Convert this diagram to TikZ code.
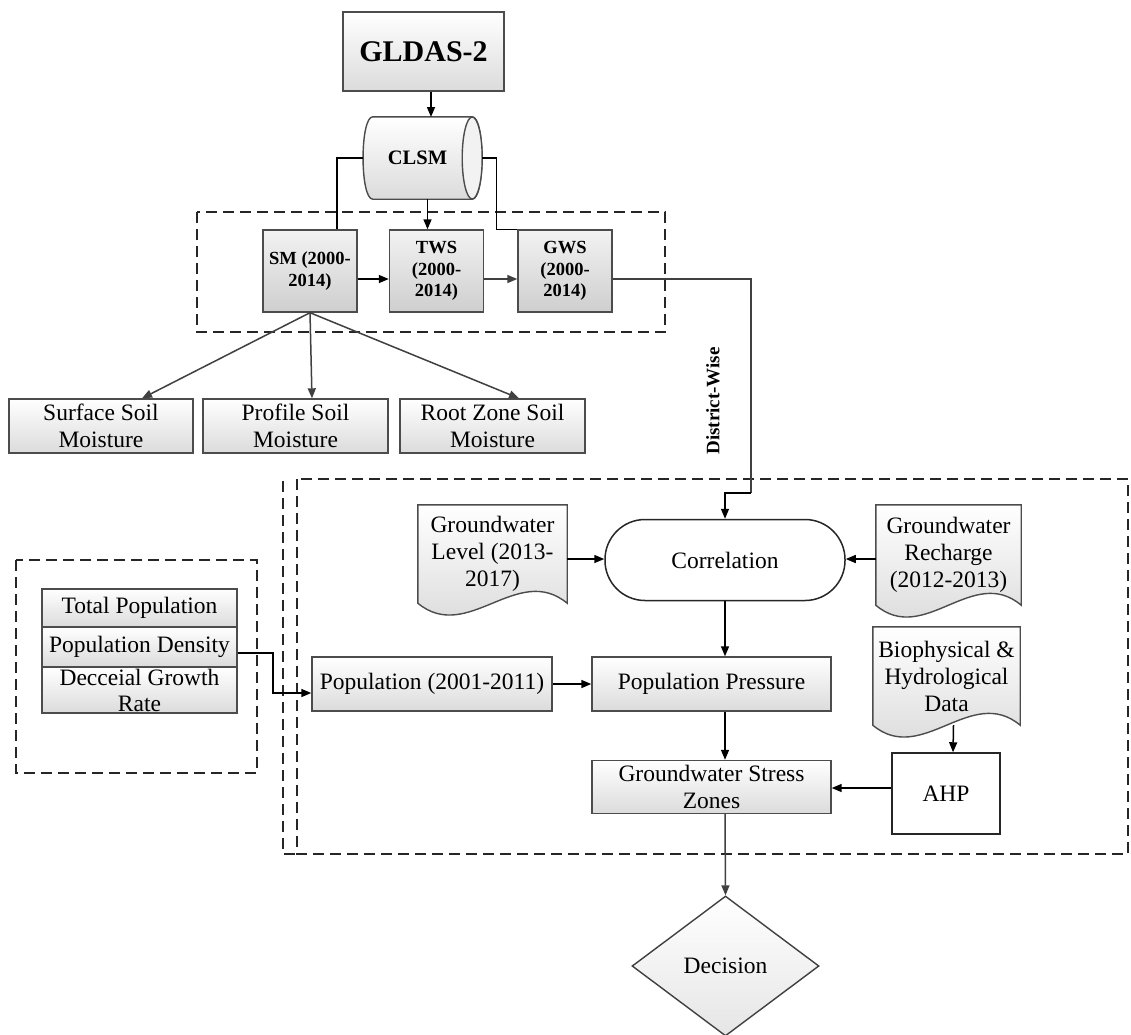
\documentclass[tikz,border=0pt]{standalone}
\usepackage{fontspec}
\setmainfont{Liberation Serif}
\usetikzlibrary{shapes.geometric,arrows.meta,calc}
\pgfdeclarelayer{background}
\pgfsetlayers{background,main}
\newcommand{\mydocshape}[1]{%
  \path[docline] (#1.north west) -- (#1.north east) -- (#1.south east)
    .. controls ($(#1.south east)!0.333!(#1.south west)+(0,-41)$) and ($(#1.south east)!0.667!(#1.south west)+(0,41)$) .. (#1.south west) -- cycle;}
\begin{document}
\begin{tikzpicture}[x=1pt,y=-1pt,
  lbl/.style={font=\fontsize{23.5}{27}\selectfont, align=center},
  gbox/.style={lbl, draw=black!70, line width=1.4pt, top color=white, bottom color=black!14, inner sep=0pt},
  dbox/.style={draw=black!70, line width=1.4pt, top color=black!5, bottom color=black!19, inner sep=0pt,
     font=\bfseries\fontsize{18.5}{21.5}\selectfont, align=center, minimum width=94pt, minimum height=82pt},
  dashbox/.style={draw=black!85, line width=1.8pt, dash pattern=on 11pt off 6pt},
  arr/.style={-{Triangle[length=10pt,width=8pt]}, line width=1.5pt},
  conn/.style={line width=1.5pt},
  doc/.style={lbl, inner sep=0pt},
  docline/.style={draw=black!70, line width=1.4pt, top color=white, bottom color=black!16},
]
\begin{pgfonlayer}{background}
\fill[white] (0,0) rectangle (1131,1034);
\end{pgfonlayer}
\useasboundingbox (0,0) rectangle (1131,1034);

% dashed groups
\draw[dashbox] (197,212) rectangle (665,332);
\draw[dashbox] (16,560) rectangle (257,773);
\draw[dashbox] (297,479) rectangle (1128,854);
\draw[dashbox] (283,481) -- (283,854) -- (297,854);

% top part
\node[gbox, minimum width=161pt, minimum height=79pt, font=\bfseries\fontsize{30}{34}\selectfont] (gldas) at (423.5,51.5) {GLDAS-2};
\node[inner sep=0pt, minimum width=119pt, minimum height=82pt, font=\bfseries\fontsize{20.5}{24}\selectfont] (clsm) at (422.5,158) {CLSM\hspace*{10pt}};
\node[dbox] (sm) at (310,271) {SM (2000-\\2014)};
\node[dbox] (tws) at (436.5,271) {TWS\\(2000-\\2014)};
\node[dbox] (gws) at (565,271) {GWS\\(2000-\\2014)};

\node[gbox, minimum width=184pt, minimum height=54pt] (ssm) at (101,426) {Surface Soil\\Moisture};
\node[gbox, minimum width=185pt, minimum height=54pt] (psm) at (295.5,426) {Profile Soil\\Moisture};
\node[gbox, minimum width=185pt, minimum height=54pt] (rsm) at (492.5,426) {Root Zone Soil\\Moisture};

\node[rotate=90, font=\bfseries\fontsize{19}{22}\selectfont] (dwl) at (713,401) {District-Wise};

% left population group
\node[gbox, minimum width=195pt, minimum height=46pt, font=\fontsize{23.5}{26}\selectfont] (dg) at (139.5,690) {Decceial Growth\\Rate};
\node[gbox, minimum width=195pt, minimum height=38pt] (tp) at (139.5,608) {Total Population};
\node[gbox, minimum width=195pt, minimum height=40pt] (pd) at (139.5,647) {Population Density};

% lower group
\node[doc, minimum width=149pt, minimum height=98pt] (gl) at (492.5,554) {Groundwater\\Level (2013-\\2017)};
\node[draw=black!85, line width=1.5pt, fill=white, rounded corners=40pt, minimum width=240pt, minimum height=81pt, lbl, inner sep=0pt] (corr) at (725,560) {Correlation};
\node[doc, minimum width=145pt, minimum height=100pt] (gr) at (948.5,555) {Groundwater\\Recharge\\(2012-2013)};
\node[doc, minimum width=147pt, minimum height=98pt] (bio) at (946.5,676) {Biophysical \&\\Hydrological\\Data};

\node[gbox, minimum width=240pt, minimum height=54pt] (pop) at (432,684) {Population (2001-2011)};
\node[gbox, minimum width=239pt, minimum height=54pt] (pp) at (711.5,684) {Population Pressure};
\node[gbox, minimum width=239pt, minimum height=53pt] (gsz) at (711.5,787) {Groundwater Stress\\Zones};
\node[draw=black!85, line width=1.5pt, fill=white, minimum width=108pt, minimum height=81pt, lbl, inner sep=0pt] (ahp) at (946,793.5) {AHP};
\node[diamond, draw=black!75, line width=1.4pt, top color=white, bottom color=black!10, minimum width=187pt, minimum height=140pt,
      inner sep=0pt, lbl] (dec) at (725.5,966) {Decision};

\begin{pgfonlayer}{background}
  \mydocshape{gl}
  \mydocshape{gr}
  \mydocshape{bio}
  % CLSM cylinder outline
  \path[draw=black!70, line width=1.4pt, top color=white, bottom color=black!14]
    ($(clsm.north east)+(-10,0)$) -- ($(clsm.north west)+(10,0)$)
    .. controls ($(clsm.north west)+(-3,0)$) and ($(clsm.south west)+(-3,0)$) .. ($(clsm.south west)+(10,0)$)
    -- ($(clsm.south east)+(-10,0)$)
    .. controls ($(clsm.south east)+(3,0)$) and ($(clsm.north east)+(3,0)$) .. cycle;
  \path[draw=black!70, line width=1.4pt, fill=black!5] ($(clsm.east)+(-10,0)$) ellipse [x radius=10, y radius=41];
\end{pgfonlayer}

% connectors
\draw[arr] (gldas.south -| 431,0) -- (431,117);
\draw[conn] (clsm.west) -| ([xshift=27pt]sm.north);
\draw[conn] (clsm.east) -| ([xshift=-21pt]gws.north west) -- (gws.north west);
\draw[arr] ([xshift=5pt]clsm.south) -- ([xshift=5pt]clsm.south |- tws.north);
\draw[arr] ([yshift=-8pt]sm.east) -- ([yshift=-8pt]tws.west);
\draw[arr, black!75] ([yshift=-8pt]tws.east) -- ([yshift=-8pt]gws.west);

\draw[arr, black!75] (sm.south) -- ([xshift=41pt]ssm.north);
\draw[arr, black!75] (sm.south) -- ([xshift=16.5pt]psm.north);
\draw[arr, black!75] (sm.south) -- ([xshift=26.5pt]rsm.north);

\coordinate (dw) at (751,493);
\draw[conn, black!75] ([yshift=-8pt]gws.east) -| (dw);
\draw[arr] (dw) -| (corr.north);

\coordinate (bend) at (273,653);
\draw[arr] ([yshift=-6pt]pd.east) -- (bend) |- ([yshift=-9pt]pop.west);

\draw[arr] ([yshift=-5pt]gl.east) -- ([yshift=-5pt]gl.east -| corr.west);
\draw[arr] ([yshift=-4pt]gr.west) -- ([yshift=-4pt]gr.west -| corr.east);
\draw[arr] (corr.south) -- (corr.south |- pp.north);
\draw[arr] (pop.east) -- (pp.west);
\draw[arr] (pp.south -| corr.south) -- (gsz.north -| corr.south);
\draw[arr] ([xshift=7pt]bio.south) -- ([xshift=7pt]ahp.north);
\draw[arr] ([yshift=5.5pt]ahp.west) -- ([yshift=5.5pt]ahp.west -| gsz.east);
\draw[arr, black!75] (gsz.south -| corr.south) -- (dec.north);
\end{tikzpicture}
\end{document}
